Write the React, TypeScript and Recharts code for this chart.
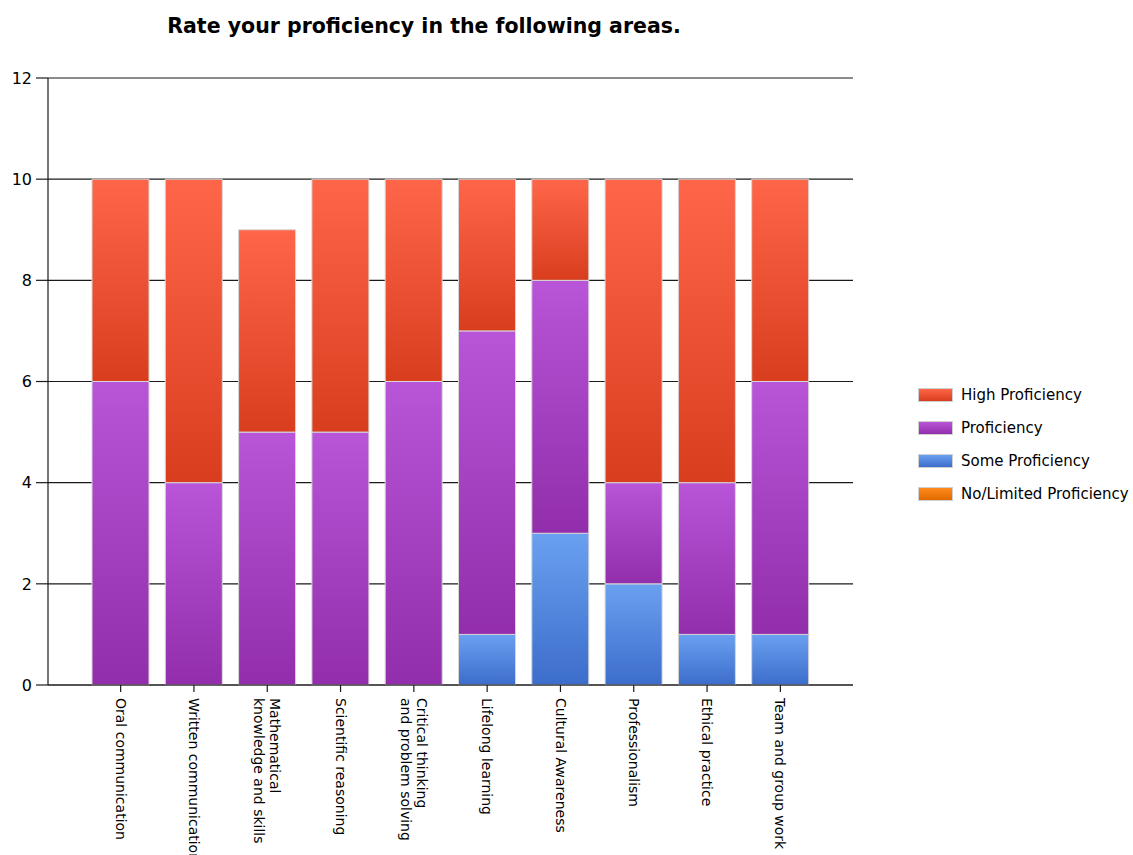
import { BarChart, Bar, XAxis, YAxis, CartesianGrid } from 'recharts';

document.body.style.margin = '0';

const categories = [
    'Oral communication',
    'Written communication',
    'Mathematical knowledge and skills',
    'Scientific reasoning',
    'Critical thinking and problem solving',
    'Lifelong learning',
    'Cultural Awareness',
    'Professionalism',
    'Ethical practice',
    'Team and group work',
];

// how the tick labels wrap in the original
const tickLabels = [
    ['Oral communication'],
    ['Written communication'],
    ['Mathematical', 'knowledge and skills'],
    ['Scientific reasoning'],
    ['Critical thinking', 'and problem solving'],
    ['Lifelong learning'],
    ['Cultural Awareness'],
    ['Professionalism'],
    ['Ethical practice'],
    ['Team and group work'],
];

const noLimited = [0, 0, 0, 0, 0, 0, 0, 0, 0, 0];
const someProf = [0, 0, 0, 0, 0, 1, 3, 2, 1, 1];
const proficiency = [6, 4, 5, 5, 6, 6, 5, 2, 3, 5];
const highProf = [4, 6, 4, 5, 4, 3, 2, 6, 6, 4];

const yTicks = [0, 2, 4, 6, 8, 10, 12];

const series = [
    { key: 'none', name: 'No/Limited Proficiency', grad: 'gOrange', top: '#ff8a1a', bottom: '#e06a00' },
    { key: 'some', name: 'Some Proficiency', grad: 'gBlue', top: '#6aa0f0', bottom: '#3c6dcb' },
    { key: 'prof', name: 'Proficiency', grad: 'gPurple', top: '#b855d8', bottom: '#922eab' },
    { key: 'high', name: 'High Proficiency', grad: 'gRed', top: '#ff6548', bottom: '#d83e1e' },
];

const data = categories.map((name, i) => ({
    name,
    none: noLimited[i],
    some: someProf[i],
    prof: proficiency[i],
    high: highProf[i],
}));

const FONT = '"DejaVu Sans", sans-serif';

const CategoryTick = (props: any) => {
    const { x, y, payload } = props;
    const lines = tickLabels[categories.indexOf(payload.value)] ?? [payload.value];
    const lh = 16;
    return (
        <g transform={`translate(${x},${y})`}>
            <text transform="rotate(90)" fontSize={14} fill="#000" textAnchor="start" fontFamily={FONT}>
                {lines.map((l, i) => (
                    <tspan key={i} x={0} y={(i - (lines.length - 1) / 2) * lh} dy="0.35em">{l}</tspan>
                ))}
            </text>
        </g>
    );
};

export default function App() {
    const legendOrder = [...series].reverse();
    return (
        <div style={{ position: 'relative', width: 1133, height: 855, fontFamily: FONT, background: '#fff' }}>
            <div style={{ position: 'absolute', top: 14, left: 0, width: 848, textAlign: 'center', fontWeight: 'bold', fontSize: 20.5, color: '#000' }}>
                Rate your proficiency in the following areas.
            </div>
            <BarChart
                width={1133}
                height={855}
                data={data}
                margin={{ top: 78, right: 280, left: 0, bottom: 0 }}
                barSize={57}
                style={{ fontFamily: FONT }}
            >
                <defs>
                    {series.map(s => (
                        <linearGradient key={s.grad} id={s.grad} x1="0" y1="0" x2="0" y2="1">
                            <stop offset="0%" stopColor={s.top} />
                            <stop offset="100%" stopColor={s.bottom} />
                        </linearGradient>
                    ))}
                </defs>
                <CartesianGrid vertical={false} stroke="#1a1a1a" strokeWidth={1.2} />
                <XAxis
                    xAxisId="edge"
                    type="number"
                    domain={[0, 1]}
                    ticks={[0, 1]}
                    tick={false}
                    axisLine={false}
                    tickLine={{ stroke: '#1a1a1a', strokeWidth: 1.2 }}
                    tickSize={9}
                    height={0}
                />
                <XAxis
                    dataKey="name"
                    interval={0}
                    padding={{ left: 36, right: 36 }}
                    height={170}
                    tickSize={7}
                    tickMargin={6}
                    axisLine={{ stroke: '#1a1a1a', strokeWidth: 1.2 }}
                    tickLine={{ stroke: '#1a1a1a', strokeWidth: 1.2 }}
                    tick={<CategoryTick />}
                />
                <YAxis
                    width={48}
                    domain={[0, 12]}
                    ticks={yTicks}
                    interval={0}
                    tickSize={12}
                    tickMargin={4}
                    axisLine={{ stroke: '#1a1a1a', strokeWidth: 1.2 }}
                    tickLine={{ stroke: '#1a1a1a', strokeWidth: 1.2 }}
                    tick={{ fill: '#000', fontSize: 16, fontFamily: FONT }}
                />
                {series.map(s => (
                    <Bar
                        key={s.key}
                        dataKey={s.key}
                        name={s.name}
                        stackId="a"
                        fill={`url(#${s.grad})`}
                        stroke="#d6d6d6"
                        strokeWidth={1}
                        isAnimationActive={false}
                    />
                ))}
            </BarChart>
            <div style={{ position: 'absolute', left: 918, top: 378 }}>
                {legendOrder.map(s => (
                    <div key={s.key} style={{ display: 'flex', alignItems: 'center', height: 33 }}>
                        <div style={{
                            width: 33, height: 12, border: '1px solid #d0d0d0',
                            background: `linear-gradient(${s.top}, ${s.bottom})`, marginRight: 8,
                        }} />
                        <span style={{ fontSize: 15, color: '#000', whiteSpace: 'nowrap' }}>{s.name}</span>
                    </div>
                ))}
            </div>
        </div>
    );
}
